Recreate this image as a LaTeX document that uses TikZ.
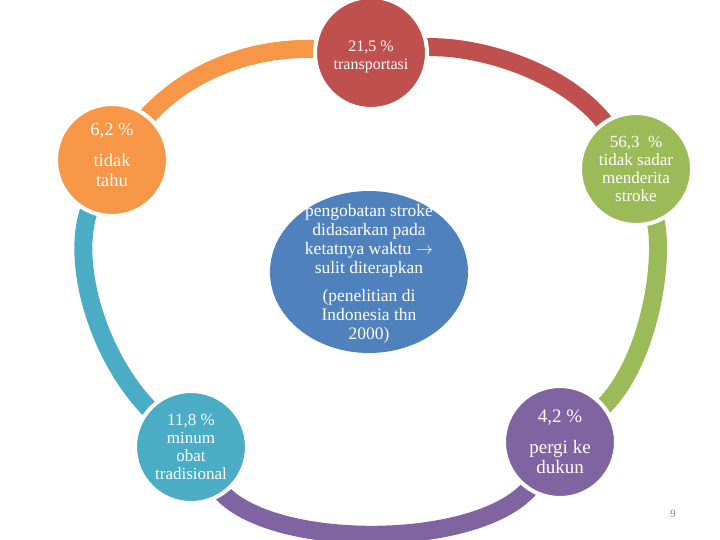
\documentclass[tikz,border=0pt]{standalone}
\usepackage{fontspec}
\setmainfont{Liberation Serif}
\usetikzlibrary{shapes.geometric, backgrounds}

\definecolor{corange}{HTML}{F79646}
\definecolor{cred}{HTML}{C0504D}
\definecolor{cgreen}{HTML}{9BBB59}
\definecolor{cteal}{HTML}{4BACC6}
\definecolor{cpurple}{HTML}{8064A2}
\definecolor{cblue}{HTML}{4F81BD}

\begin{document}
\begin{tikzpicture}[x=1bp, y=-1bp,
  blob/.style={circle, minimum size=112bp, inner sep=0pt, draw=white, line width=4bp},
  core/.style={ellipse, minimum width=198bp, minimum height=162bp, inner sep=0pt, fill=cblue},
  band/.style={line width=18bp, shorten <=-12bp, shorten >=-12bp},
  txt/.style={text=white, align=center, inner sep=0pt}]
  \useasboundingbox (0,0) rectangle (720,540);

  % circles round the ring
  \node[blob, fill=cred] (transp) at (371,53) {};
  \node[blob, fill=corange] (tahu) at (112,160) {};
  \node[blob, fill=cgreen] (sadar) at (636,169) {};
  \node[blob, fill=cteal] (obat) at (191,447) {};
  \node[blob, fill=cpurple] (dukun) at (560,442) {};
  \node[core] (core) at (369,272) {};

  % ring pieces under the circles
  \begin{scope}[on background layer]
    \draw[band, corange] (tahu) .. controls (180,75) and (250,44) .. (transp);
    \draw[band, cred] (transp) .. controls (470,42) and (570,70) .. (sadar);
    \draw[band, cgreen] (sadar) .. controls (668,250) and (650,370) .. (dukun);
    \draw[band, cpurple] (dukun) .. controls (490,552) and (260,552) .. (obat);
    \draw[band, cteal] (obat) .. controls (100,365) and (66,258) .. (tahu);
  \end{scope}

  \node[txt, font=\fontsize{16bp}{18bp}\selectfont] (transptxt) at ([yshift=-4bp]transp)
    {21,5 \%\\transportasi};
  \node[txt, font=\fontsize{18.5bp}{20bp}\selectfont] (tahutxt) at ([yshift=5bp]tahu)
    {6,2 \%\\[11bp]tidak\\tahu};
  \node[txt, font=\fontsize{17bp}{18bp}\selectfont] (sadartxt) at (sadar)
    {56,3~ \%\\tidak sadar\\menderita\\stroke};
  \node[txt, font=\fontsize{17bp}{18bp}\selectfont] (obattxt) at (obat)
    {11,8 \%\\minum\\obat\\tradisional};
  \node[txt, font=\fontsize{19bp}{20bp}\selectfont] (dukuntxt) at (dukun)
    {4,2 \%\\[11bp]pergi ke\\dukun};
  \node[txt, font=\fontsize{17.5bp}{19bp}\selectfont] (coretxt) at ([yshift=-2bp]core)
    {pengobatan stroke\\didasarkan pada\\ketatnya waktu $\rightarrow$\\sulit diterapkan\\[9bp](penelitian di\\Indonesia thn\\2000)};

  \node[text=gray, font=\fontsize{11bp}{12bp}\selectfont] (pagenum) at (673,514) {9};
\end{tikzpicture}
\end{document}
